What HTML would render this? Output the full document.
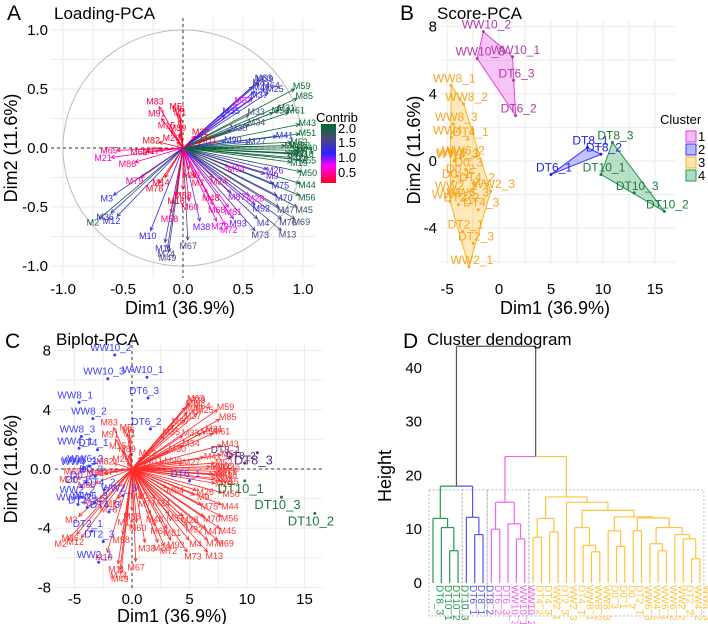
<!DOCTYPE html>
<html><head><meta charset="utf-8">
<style>
html,body{margin:0;padding:0;background:#fff;}
svg{display:block;font-family:"Liberation Sans",Arial,sans-serif;}
</style></head>
<body>
<svg id="fig" width="708" height="624" viewBox="0 0 708 624" xmlns="http://www.w3.org/2000/svg">
<defs>
<linearGradient id="cgrad" x1="0" y1="1" x2="0" y2="0">
<stop offset="0" stop-color="#ff0022"/>
<stop offset="0.3" stop-color="#ff00ff"/>
<stop offset="0.5" stop-color="#2a22ff"/>
<stop offset="0.75" stop-color="#4a4a7a"/>
<stop offset="1" stop-color="#006a2a"/>
</linearGradient>
</defs>
</svg>
<script>
// ---------- DATA ----------
const varNames = ['M63','M39','M8','M64','M25','M42','M37','M59','M85','M31','M61','M54','M57','M35','M33','M41','M34','M43','M51','M40','M30','M90','M27','M6','M1','M5','M83','M91','M15','M89','M22','M82','M20','M11','M65','M62','M17','M21','M86','M79','M14','M78','M3','M36','M2','M12','M10','M11','M74','M49','M67','M38','M58','M16','M88','M60','M7','M80','M48','M68','M24','M29','M72','M81','M87','M93','M94','M26','M28','M9','M75','M92','M70','M4','M73','M47','M76','M13','M55','M50','M44','M56','M45','M69','M53','M46','M52','M71','M23','M32','M18','M19','M77'];
const varDim1 = [0.62,0.63,0.58,0.68,0.71,0.6,0.58,0.93,0.95,0.8,0.88,0.75,0.45,0.35,0.55,0.78,0.55,0.97,0.97,0.98,0.4,0.35,0.55,-0.03,-0.02,-0.05,-0.2,-0.18,-0.1,-0.03,0.1,-0.2,-0.05,0.15,-0.55,-0.3,-0.2,-0.6,-0.4,-0.35,-0.15,-0.2,-0.58,-0.6,-0.7,-0.55,-0.27,-0.15,-0.13,-0.12,0.04,0.14,-0.1,-0.05,0.0,0.05,0.1,0.05,0.2,0.25,0.25,0.28,0.35,0.38,0.4,0.42,0.38,0.7,0.55,0.68,0.75,0.6,0.78,0.62,0.6,0.8,0.82,0.82,0.97,0.98,0.97,0.97,0.95,0.93,0.9,0.85,0.9,0.95,0.9,0.92,0.95,0.9,0.88];
const varDim2 = [0.56,0.55,0.52,0.5,0.47,0.48,0.42,0.5,0.42,0.32,0.3,0.3,0.37,0.28,0.28,0.1,0.2,0.2,0.12,0.0,0.15,0.06,0.05,0.28,0.25,0.3,0.35,0.25,0.15,0.12,0.1,0.05,0.05,0.05,-0.02,-0.03,-0.02,-0.08,-0.12,-0.25,-0.25,-0.3,-0.4,-0.55,-0.6,-0.58,-0.7,-0.8,-0.85,-0.88,-0.78,-0.62,-0.55,-0.4,-0.35,-0.45,-0.25,-0.18,-0.38,-0.48,-0.25,-0.62,-0.65,-0.5,-0.38,-0.6,-0.16,-0.18,-0.4,-0.22,-0.3,-0.48,-0.4,-0.6,-0.7,-0.5,-0.6,-0.7,-0.1,-0.2,-0.3,-0.4,-0.5,-0.6,-0.05,0.02,0.05,-0.02,-0.08,0.02,-0.05,-0.12,-0.04];
const varContrib = [1.4,1.3,1.3,1.3,1.4,1.2,1.1,2.0,2.0,1.8,1.9,1.9,0.8,1.1,1.6,1.2,1.6,2.0,2.0,2.0,1.4,1.2,1.3,0.3,0.3,0.3,0.4,0.4,0.4,0.3,0.3,0.3,0.3,0.3,0.5,0.4,0.3,0.7,0.5,0.5,0.3,0.3,1.2,1.3,1.9,1.2,1.1,1.3,1.4,1.5,1.5,1.0,0.5,0.3,0.4,0.5,0.4,0.3,0.4,0.6,0.5,0.7,0.8,0.7,0.9,1.0,0.7,1.0,0.8,1.0,1.2,1.1,1.3,1.4,1.4,1.5,1.5,1.5,2.0,2.0,2.0,1.9,1.7,1.6,1.8,1.8,1.9,1.9,1.8,2.0,2.0,1.9,1.9];

const sampleNames = ['WW10_2','WW10_3','WW10_1','DT6_3','DT6_2','DT6_1','DT8_1','DT8_2','DT8_3','DT10_1','DT10_3','DT10_2','WW8_1','WW8_2','WW8_3','DT4_1','WW6_2','WW6_1','D0_3','D0_1','D0_2','WW4_1','WW4_3','DT4_2','WW2_2','WW6_3','WW4_2','DT2_2','DT4_3','DT2_1','DT2_3','WW2_1','WW2_3'];
const sampleDim1 = [-1.5,-2.1,1.3,1.4,1.6,5.0,8.5,9.8,10.9,9.8,13.0,15.9,-4.6,-3.4,-4.4,-3.0,-3.7,-4.2,-3.2,-4.4,-4.0,-4.6,-4.3,-2.4,-4.4,-3.3,-4.7,-3.9,-2.0,-3.5,-2.5,-2.9,-0.8];
const sampleDim2 = [7.7,6.1,6.2,4.8,2.7,-0.8,0.8,0.4,1.1,-0.8,-1.9,-3.0,4.5,3.4,2.2,1.3,0.2,0.1,-0.5,-1.2,-0.9,1.4,0.0,-1.4,-1.9,-2.3,-2.4,-2.6,-2.9,-4.2,-4.9,-6.3,-1.8];
const sampleCluster = [1,1,1,1,1,2,2,2,4,4,4,4,3,3,3,3,3,3,3,3,3,3,3,3,3,3,3,3,3,3,3,3,3];

const dendLeaves = ['DT8_3','DT10_1','DT10_2','DT10_3','DT6_1','DT8_1','DT8_2','DT6_2','DT6_3','WW10_3','WW10_1','WW10_2','DT4_2','DT4_3','WW2_1','DT2_3','WW2_3','DT4_1','WW8_1','WW8_2','WW8_3','D0_3','D0_1','D0_2','DT2_1','WW6_3','WW4_1','WW6_1','WW6_2','WW2_2','DT2_2','WW4_2','WW4_3'];
const dendLeafCluster = [4,4,4,4,2,2,2,1,1,1,1,1,3,3,3,3,3,3,3,3,3,3,3,3,3,3,3,3,3,3,3,3,3];
const dendGreen = [12, 0, [10.3, 1, [6, 2, 3]]];
const dendBlue = [12.2, 4, [9, 5, 6]];
const dendPink = [15, [10, 7, 8], [11, 9, [8.2, 10, 11]]];
const dendOrange = [16, [12, [8.5, 12, 13], [9.5, 14, 15]],
  [15, 16, [13.5, [10.3, 17, [7, 18, [5.8, 19, 20]]],
     [12.3, [9.7, 21, [6.8, 22, 23]],
       [12.1, [9.7, 24, 25], [10.3, [7.3, 26, [6, 27, 28]], [9, 29, [8.2, 30, [4.5, 31, 32]]]]]]]]];
const dendRoot = [44, [18, dendGreen, dendBlue], [23.5, dendPink, dendOrange]];

const axATicks = [-1.0,-0.5,0.0,0.5,1.0];
const axBXTicks = [-5,0,5,10,15];
const axBYTicks = [-4,0,4,8];
const axCXTicks = [-5,0,5,10,15];
const axCXLabels = ['-5','0.0','5','10','15'];
const axCYTicks = [-8,-4,0,4,8];
const axCYLabels = ['-8','-4','0.0','4','8'];
const axDYTicks = [0,10,20,30,40];

// ---------- HELPERS ----------
const svg = document.getElementById('fig');
const NS = 'http://www.w3.org/2000/svg';
function mk(tag, attrs, parent){
  const el = document.createElementNS(NS, tag);
  for (const k in attrs) el.setAttribute(k, attrs[k]);
  (parent||svg).appendChild(el);
  return el;
}
function txt(s, attrs, parent){ const t = mk('text', attrs, parent); t.textContent = s; return t; }
function lerp(a,b,t){return a+(b-a)*t;}
function hex(c){return [parseInt(c.slice(1,3),16),parseInt(c.slice(3,5),16),parseInt(c.slice(5,7),16)];}
const cstops = [[0.3,'#ff0022'],[0.8,'#ff00ff'],[1.1,'#2a22ff'],[1.55,'#4a4a7a'],[2.0,'#006a2a']];
function contribColor(v){
  if (v<=cstops[0][0]) return cstops[0][1];
  for (let i=1;i<cstops.length;i++){
    if (v<=cstops[i][0]){
      const t=(v-cstops[i-1][0])/(cstops[i][0]-cstops[i-1][0]);
      const a=hex(cstops[i-1][1]), b=hex(cstops[i][1]);
      return 'rgb('+[0,1,2].map(j=>Math.round(lerp(a[j],b[j],t))).join(',')+')';
    }
  }
  return cstops[cstops.length-1][1];
}
function arrow(g, x1,y1,x2,y2,color,w){
  const l = mk('line',{x1:x1,y1:y1,x2:x2,y2:y2,stroke:color,'stroke-width':w},g);
  
  
  const a = Math.atan2(y2-y1,x2-x1), s=4;
  const p = mk('path',{d:`M${x2-s*Math.cos(a-0.45)},${y2-s*Math.sin(a-0.45)}L${x2},${y2}L${x2-s*Math.cos(a+0.45)},${y2-s*Math.sin(a+0.45)}`,fill:'none',stroke:color,'stroke-width':w},g);
  
  
}
function hull(pts){
  pts = pts.slice().sort((a,b)=>a[0]-b[0]||a[1]-b[1]);
  if (pts.length<3) return pts;
  const cr=(o,a,b)=>(a[0]-o[0])*(b[1]-o[1])-(a[1]-o[1])*(b[0]-o[0]);
  const lo=[],up=[];
  for(const p of pts){while(lo.length>=2&&cr(lo[lo.length-2],lo[lo.length-1],p)<=0)lo.pop();lo.push(p);}
  for(let i=pts.length-1;i>=0;i--){const p=pts[i];while(up.length>=2&&cr(up[up.length-2],up[up.length-1],p)<=0)up.pop();up.push(p);}
  up.pop();lo.pop();return lo.concat(up);
}
function grid(g, xs, ys, x0,x1,y0,y1){
  xs.forEach(x=>{const l=mk('line',{x1:x,x2:x,y1:y0,y2:y1,stroke:'#ebebeb','stroke-width':1},g);
    
    });
  ys.forEach(y=>{const l=mk('line',{x1:x0,x2:x1,y1:y,y2:y,stroke:'#ebebeb','stroke-width':1},g);
    
    });
}
function vtitle(s,x,y,size){
  return txt(s,{x:x,y:y,'font-size':size,'text-anchor':'middle',transform:`rotate(-90 ${x} ${y})`,fill:'#000'});
}
const clusterFill = {1:'#e040e0',2:'#3535ff',3:'#ffb31a',4:'#1a9850'};
const clusterText = {1:'#b23aa8',2:'#1f1fe0',3:'#f5a623',4:'#1e7b3c'};
const TICK = 15, ATITLE = 18, PTITLE = 17, LETTER = 21;

// ---------- PANEL A ----------
(function(){
  const g = mk('g',{});
  
  
  const ax=v=>183+v*120, ay=v=>148-v*118;
  const minor=[-0.75,-0.25,0.25,0.75];
  grid(g, axATicks.concat(minor).map(ax), axATicks.concat(minor).map(ay), 51,315,18,278);
  const c = mk('ellipse',{cx:ax(0),cy:ay(0),rx:120,ry:118,fill:'none',stroke:'#bbbbbb','stroke-width':1},g);
  
  
  const zx = mk('line',{x1:51,x2:315,y1:ay(0),y2:ay(0),stroke:'#333','stroke-dasharray':'3,3'},g);
  
  
  const zy = mk('line',{x1:ax(0),x2:ax(0),y1:18,y2:278,stroke:'#333','stroke-dasharray':'3,3'},g);
  
  
  varNames.forEach((n,i)=>{
    arrow(g, ax(0),ay(0), ax(varDim1[i]), ay(varDim2[i]), contribColor(varContrib[i]), 0.8);
  });
  varNames.forEach((n,i)=>{
    const col = contribColor(varContrib[i]);
    const dx = varDim1[i], dy = varDim2[i];
    const len = Math.hypot(dx,dy)||1;
    const t = txt(n,{x:ax(dx)+dx/len*8,y:ay(dy)-dy/len*6+3,'font-size':9,'text-anchor':'middle',fill:col},g);
    
    
  });
  axATicks.forEach(v=>{
    const t1 = txt(v.toFixed(1),{x:48,y:ay(v)+5,'font-size':TICK,'text-anchor':'end'},g);
    
    
    const t2 = txt(v.toFixed(1),{x:ax(v),y:294,'font-size':TICK,'text-anchor':'middle'},g);
    
    
  });
  const xt = txt('Dim1 (36.9%)',{x:180,y:314,'font-size':ATITLE,'text-anchor':'middle'},g);
  
  
  const yt = vtitle('Dim2 (11.6%)',17,148,ATITLE);
  
  
  const pl = txt('A',{x:7,y:20,'font-size':LETTER},g);
  
  
  const ti = txt('Loading-PCA',{x:54,y:19,'font-size':PTITLE},g);
  
  
  const lt = txt('Contrib',{x:316,y:122,'font-size':13},g);
  
  
  const cb = mk('rect',{x:321,y:124,width:15,height:59,fill:'url(#cgrad)'},g);
  
  
  [[2.0,128],[1.5,142],[1.0,157],[0.5,172]].forEach(p=>{
    const t = txt(p[0].toFixed(1),{x:338,y:p[1]+5,'font-size':13},g);
    
    
  });
})();

// ---------- PANEL B ----------
(function(){
  const g = mk('g',{});
  
  
  const bx=v=>499+v*10.4, by=v=>161-v*16.8;
  grid(g, [-5,-2.5,0,2.5,5,7.5,10,12.5,15].map(bx), [-6,-4,-2,0,2,4,6,8].map(by), 441,675,20,264);
  [1,2,3,4].forEach(cl=>{
    const pts=[];
    sampleCluster.forEach((c,i)=>{if(c===cl)pts.push([bx(sampleDim1[i]),by(sampleDim2[i])]);});
    const h = hull(pts);
    const p = mk('polygon',{points:h.map(q=>q.join(',')).join(' '),fill:clusterFill[cl],'fill-opacity':0.3,stroke:clusterFill[cl],'stroke-width':1},g);
    
    
  });
  sampleNames.forEach((n,i)=>{
    const cl = sampleCluster[i];
    const d = mk('circle',{cx:bx(sampleDim1[i]),cy:by(sampleDim2[i]),r:1.5,fill:clusterText[cl]},g);
    
    
    const t = txt(n,{x:bx(sampleDim1[i])+3,y:by(sampleDim2[i])-3,'font-size':12,'text-anchor':'middle',fill:clusterText[cl]},g);
    
    
  });
  axBYTicks.forEach(v=>{
    const t = txt(String(v),{x:437,y:by(v)+5,'font-size':TICK,'text-anchor':'end'},g);
    
    
  });
  axBXTicks.forEach(v=>{
    const t = txt(String(v),{x:bx(v),y:294,'font-size':TICK,'text-anchor':'middle'},g);
    
    
  });
  const xt = txt('Dim1 (36.9%)',{x:555,y:314,'font-size':ATITLE,'text-anchor':'middle'},g);
  
  
  const yt = vtitle('Dim2 (11.6%)',420,150,ATITLE);
  
  
  const pl = txt('B',{x:400,y:20,'font-size':LETTER},g);
  
  
  const ti = txt('Score-PCA',{x:437,y:19,'font-size':PTITLE},g);
  
  
  const lt = txt('Cluster',{x:660,y:124,'font-size':13},g);
  
  
  [1,2,3,4].forEach((cl,k)=>{
    const y = 131+k*13;
    const r = mk('rect',{x:686,y:y,width:10,height:11,fill:clusterFill[cl],'fill-opacity':0.35,stroke:clusterFill[cl]},g);
    
    
    const t = txt(String(cl),{x:698,y:y+10,'font-size':13},g);
    
    
  });
})();

// ---------- PANEL C ----------
(function(){
  const g = mk('g',{});
  
  
  const cx=v=>132+v*11.5, cy=v=>469-v*14.8;
  const sc = 8;
  grid(g, [-5,-2.5,0,2.5,5,7.5,10,12.5,15].map(cx), [-8,-6,-4,-2,0,2,4,6,8].map(cy), 55,322,345,590);
  const zx = mk('line',{x1:55,x2:322,y1:cy(0),y2:cy(0),stroke:'#333','stroke-dasharray':'3,3'},g);
  
  
  const zy = mk('line',{x1:cx(0),x2:cx(0),y1:345,y2:590,stroke:'#333','stroke-dasharray':'3,3'},g);
  
  
  varNames.forEach((n,i)=>{
    arrow(g, cx(0),cy(0), cx(varDim1[i]*sc), cy(varDim2[i]*sc), '#ff2a2a', 0.8);
  });
  varNames.forEach((n,i)=>{
    const dx=varDim1[i], dy=varDim2[i], len=Math.hypot(dx,dy)||1;
    const t = txt(n,{x:cx(dx*sc)+dx/len*9,y:cy(dy*sc)-dy/len*6+3,'font-size':9,'text-anchor':'middle',fill:'#ff3333'},g);
    
    
  });
  const cColor = {1:'#3b3bff',2:'#3b3bff',3:'#3b3bff',4:'#1e7b3c'};
  sampleNames.forEach((n,i)=>{
    const cl=sampleCluster[i];
    let col = cColor[cl];
    if (n.indexOf('DT8')===0) col='#5a2d82';
    const d = mk('circle',{cx:cx(sampleDim1[i]),cy:cy(sampleDim2[i]),r:1.5,fill:col},g);
    
    
    const t = txt(n,{x:cx(sampleDim1[i])-4,y:cy(sampleDim2[i])+(cl===4?12:-4),'font-size':cl===4?13:10,'text-anchor':'middle',fill:col},g);
    
    
  });
  axCYTicks.forEach((v,k)=>{
    const t = txt(axCYLabels[k],{x:51,y:cy(v)+5,'font-size':TICK,'text-anchor':'end'},g);
    
    
  });
  axCXTicks.forEach((v,k)=>{
    const t = txt(axCXLabels[k],{x:cx(v),y:604,'font-size':TICK,'text-anchor':'middle'},g);
    
    
  });
  const xt = txt('Dim1 (36.9%)',{x:172,y:622,'font-size':ATITLE,'text-anchor':'middle'},g);
  
  
  const yt = vtitle('Dim2 (11.6%)',17,469,ATITLE);
  
  
  const pl = txt('C',{x:5,y:348,'font-size':LETTER},g);
  
  
  const ti = txt('Biplot-PCA',{x:56,y:345,'font-size':PTITLE},g);
  
  
})();

// ---------- PANEL D ----------
(function(){
  const g = mk('g',{});
  
  
  const dy=h=>583-h*5.38, lx=i=>433+i*8.34;
  const dColor = {1:'#ee66ee',2:'#5555ee',3:'#ffc23d',4:'#22994a'};
  [4,2,1,3].forEach(cl=>{
    const idx = dendLeafCluster.map((c,i)=>c===cl?i:-1).filter(i=>i>=0);
    const x0=lx(idx[0])-4, x1=lx(idx[idx.length-1])+4;
    const r = mk('rect',{x:x0,y:dy(17.3),width:x1-x0,height:616-dy(17.3),fill:'none',stroke:'#bbbbbb','stroke-dasharray':'2,2'},g);
    
    
  });
  function leaves(n){return Array.isArray(n)?leaves(n[1]).concat(leaves(n[2])):[n];}
  function clusterOf(n){const ls=leaves(n);const c=dendLeafCluster[ls[0]];return ls.every(l=>dendLeafCluster[l]===c)?c:0;}
  function draw(n){
    if(!Array.isArray(n)) return {x:lx(n),h:0};
    const a=draw(n[1]), b=draw(n[2]);
    const y=dy(n[0]);
    [[a,n[1]],[b,n[2]]].forEach(p=>{
      const cl=clusterOf(p[1]);
      const l = mk('path',{d:`M${p[0].x},${dy(p[0].h)}V${y}`,stroke:cl?dColor[cl]:'#555555',fill:'none','stroke-width':1.2},g);
      
      
    });
    const ca=clusterOf(n[1]), cb=clusterOf(n[2]);
    const mid=(a.x+b.x)/2;
    const h1 = mk('path',{d:`M${a.x},${y}H${mid}`,stroke:ca?dColor[ca]:'#555555',fill:'none','stroke-width':1.2},g);
    
    
    const h2 = mk('path',{d:`M${mid},${y}H${b.x}`,stroke:cb?dColor[cb]:'#555555',fill:'none','stroke-width':1.2},g);
    
    
    return {x:mid,h:n[0]};
  }
  draw(dendRoot);
  dendLeaves.forEach((n,i)=>{
    const x=lx(i)+3.5, y=585;
    const t = txt(n,{x:x,y:y,'font-size':10,fill:dColor[dendLeafCluster[i]],transform:`rotate(90 ${x} ${y})`},g);
    
    
  });
  axDYTicks.forEach(v=>{
    const t = txt(String(v),{x:422,y:dy(v)+5,'font-size':TICK,'text-anchor':'end'},g);
    
    
  });
  const yt = vtitle('Height',391,476,ATITLE);
  
  
  const pl = txt('D',{x:403,y:348,'font-size':LETTER},g);
  
  
  const ti = txt('Cluster dendogram',{x:427,y:345,'font-size':PTITLE},g);
  
  
})();
</script>
</body></html>
